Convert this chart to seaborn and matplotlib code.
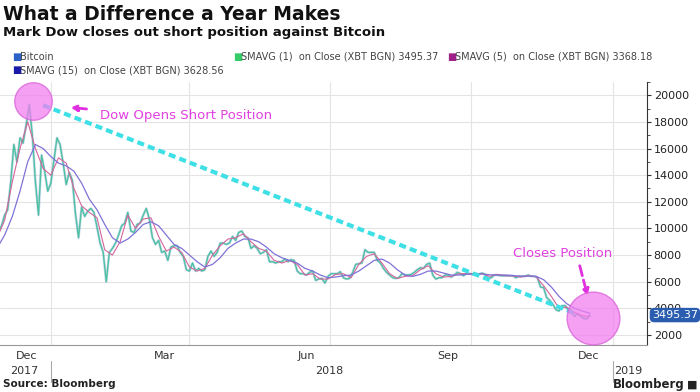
import pandas as pd
import matplotlib.pyplot as plt
import matplotlib.dates as mdates
import matplotlib.transforms as mtrans
from matplotlib.lines import Line2D
import seaborn as sns

# Bitcoin close, every 2nd day from 2017-11-28 to 2018-12-17
price_start = '2017-11-28'
price = [9700, 10200, 11000, 11400, 13500, 16300, 15000, 16800, 16400, 17800,
         19300, 17000, 13500, 11000, 15500, 14300, 12800, 13400, 15100, 16800,
         16300, 14900, 13300, 14200, 13600, 11100, 9300, 11600, 10900, 11300,
         11500, 11200, 10100, 8900, 8200, 6000, 8200, 8500, 8900, 9500,
         10200, 10400, 11200, 9800, 9700, 10300, 10400, 11000, 11500, 10700,
         9300, 8800, 9100, 8200, 8300, 7600, 8600, 8700, 8700, 8200,
         7900, 6900, 6800, 7400, 6800, 7000, 6800, 6900, 7900, 8300,
         7900, 8200, 8900, 8900, 8800, 8900, 9400, 9100, 9700, 9800,
         9400, 9300, 8500, 8700, 8500, 8100, 8200, 8400, 7500, 7500,
         7400, 7500, 7500, 7700, 7500, 7650, 7600, 6800, 6600, 6600,
         6500, 6700, 6800, 6100, 6200, 6250, 5900, 6400, 6600, 6600,
         6600, 6750, 6300, 6200, 6250, 6700, 7300, 7350, 7400, 8400,
         8200, 8200, 8200, 7600, 7400, 7000, 6700, 6500, 6300, 6250,
         6300, 6600, 6500, 6500, 6550, 6700, 6900, 7050, 7000, 7300,
         7400, 6500, 6200, 6300, 6300, 6500, 6500, 6350, 6500, 6700,
         6600, 6450, 6650, 6600, 6550, 6600, 6550, 6650, 6550, 6250,
         6300, 6500, 6500, 6450, 6450, 6450, 6450, 6450, 6300, 6400,
         6400, 6400, 6500, 6400, 6400, 6300, 5600, 5550, 4800, 4600,
         4300, 3900, 3800, 4200, 4200, 3850, 3800, 3400, 3600, 3400,
         3250, 3200, 3495.37]

# moving averages, every 5th day from 2017-11-27 to 2018-12-17
sma_start = '2017-11-27'
sma5 = [9300, 10600, 13500, 16000, 18000, 16000, 14500, 14000, 15300, 14900,
        13000, 11700, 11200, 10800, 8400, 8000, 9000, 11000, 10000, 10700,
        10800, 9400, 8300, 8600, 8200, 7100, 6800, 7000, 8000, 8700,
        9200, 9300, 9600, 9000, 8500, 8300, 7600, 7400, 7600, 7300,
        6500, 6600, 6200, 6200, 6550, 6600, 6300, 7300, 7900, 8100,
        7400, 6600, 6250, 6400, 6450, 6900, 7200, 6600, 6350, 6400,
        6600, 6600, 6550, 6600, 6400, 6550, 6450, 6430, 6350, 6450,
        6380, 5700, 4900, 4000, 4100, 3700, 3450, 3368.18]
sma15 = [8500, 9500, 10900, 12800, 15000, 16300, 16000, 15400, 14900, 14700,
         14300, 13400, 12200, 11400, 10300, 9300, 8900, 9200, 9700, 10300,
         10500, 10200, 9500, 8800, 8500, 8000, 7500, 7100, 7300, 7800,
         8500, 8900, 9200, 9200, 9000, 8600, 8100, 7800, 7600, 7400,
         7000, 6800, 6500, 6300, 6350, 6450, 6500, 6800, 7200, 7600,
         7700, 7400, 6900, 6500, 6400, 6550, 6800, 6800, 6650, 6500,
         6500, 6550, 6600, 6580, 6520, 6500, 6500, 6460, 6420, 6420,
         6410, 6150, 5600, 4900, 4350, 4000, 3800, 3628.56]

month_labels = ['Dec', 'Mar', 'Jun', 'Sep', 'Dec']
month_label_dates = ['2017-12-16', '2018-03-16', '2018-06-16', '2018-09-16', '2018-12-16']
quarter_lines = ['2018-01-01', '2018-04-01', '2018-07-01', '2018-10-01', '2019-01-01']
legend_row1 = ['Bitcoin', 'SMAVG (1)  on Close (XBT BGN) 3495.37',
               'SMAVG (5)  on Close (XBT BGN) 3368.18']
legend_row2 = ['SMAVG (15)  on Close (XBT BGN) 3628.56']
last_price = 3495.37

df_price = pd.DataFrame({'date': pd.date_range(price_start, periods=len(price), freq='2D'),
                         'close': price})
df_sma = pd.DataFrame({'date': pd.date_range(sma_start, periods=len(sma5), freq='5D'),
                       'sma5': sma5, 'sma15': sma15})

sns.set_style('white')
plt.rcParams['font.family'] = ['DejaVu Sans']

fig = plt.figure(figsize=(7, 3.92), dpi=100)
ax = fig.add_axes([0.0, 0.12, 0.924, 0.671])

# lines
sns.lineplot(data=df_price, x='date', y='close', color='#2f6fc0', lw=1.8, alpha=0.3, ax=ax)
sns.lineplot(data=df_price, x='date', y='close', color='#48c39c', lw=0.9, ax=ax)
sns.lineplot(data=df_sma, x='date', y='sma5', color='#d4649c', lw=0.8, ax=ax)
sns.lineplot(data=df_sma, x='date', y='sma15', color='#7f72d8', lw=0.9, ax=ax)

ax.set_xlim(pd.Timestamp('2017-11-29'), pd.Timestamp('2019-01-23'))
ax.set_ylim(1250, 21000)
ax.set_xlabel('')
ax.set_ylabel('')

# grid
ax.set_yticks(range(2000, 20001, 2000))
ax.set_yticks(range(2000, 21001, 1000), minor=True)
ax.grid(axis='y', which='major', color='#e4e4e4', lw=0.8)
for q in quarter_lines:
    ax.axvline(pd.Timestamp(q), color='#e4e4e4', lw=0.8, zorder=0)

# y axis on the right
ax.yaxis.tick_right()
ax.tick_params(axis='y', which='major', length=3, color='#333333', labelsize=8,
               labelcolor='#222222', pad=2)
ax.tick_params(axis='y', which='minor', length=2, color='#333333')
for side in ['top', 'left']:
    ax.spines[side].set_visible(False)
ax.spines['right'].set_color('#333333')
ax.spines['right'].set_linewidth(0.8)
ax.spines['bottom'].set_color('#999999')
ax.spines['bottom'].set_linewidth(0.8)

# x axis: month ticks + mid-month labels
ax.xaxis.set_minor_locator(mdates.MonthLocator())
ax.set_xticks([pd.Timestamp(d) for d in month_label_dates])
ax.set_xticklabels(month_labels)
ax.tick_params(axis='x', which='major', length=0, labelsize=8, labelcolor='#333333', pad=4)
ax.tick_params(axis='x', which='minor', length=2, color='#999999', direction='inout')

bt = mtrans.blended_transform_factory(ax.transData, ax.transAxes)
for d, lab in [('2017-12-15', '2017'), ('2018-07-01', '2018'), ('2019-01-11', '2019')]:
    ax.text(pd.Timestamp(d), -0.098, lab, transform=bt, ha='center', va='center',
            fontsize=8, color='#333333')
for d in ['2018-01-01', '2019-01-01']:
    x = mdates.date2num(pd.Timestamp(d))
    ax.add_line(Line2D([x, x], [-0.06, -0.14], transform=bt, color='#aaaaaa', lw=0.8,
                       clip_on=False))

# annotations
ax.plot([pd.Timestamp('2017-12-27'), pd.Timestamp('2018-12-09')], [19250, 3550],
        color='#3ee0e6', lw=3, ls=(0, (1.7, 1.0)), zorder=4)
ax.plot(pd.Timestamp('2017-12-20 12:00'), 19550, 'o', ms=27, mfc='#f280f0', mec='#d860d8',
        alpha=0.75, zorder=5)
ax.plot(pd.Timestamp('2018-12-19'), 3310, 'o', ms=38, mfc='#f280f0', mec='#d860d8',
        alpha=0.75, zorder=5)
ax.annotate('', xy=(pd.Timestamp('2018-01-12'), 19100), xytext=(pd.Timestamp('2018-01-26'), 18950),
            arrowprops=dict(arrowstyle='-|>', color='#e030e0', lw=2, ls='--', mutation_scale=9))
ax.text(pd.Timestamp('2018-02-02'), 18500, 'Dow Opens Short Position', color='#e040e0',
        fontsize=9.5, va='center', ha='left')
ax.text(pd.Timestamp('2018-10-28'), 8150, 'Closes Position', color='#e040e0',
        fontsize=9.5, va='center', ha='left')
ax.annotate('', xy=(pd.Timestamp('2018-12-16'), 4730), xytext=(pd.Timestamp('2018-12-10'), 7400),
            arrowprops=dict(arrowstyle='-|>', color='#e030e0', lw=2, ls='--', mutation_scale=9))

# last value tag
rt = mtrans.blended_transform_factory(ax.transAxes, ax.transData)
ax.text(1.008, last_price, f'{last_price:.2f}', transform=rt, ha='left', va='center',
        fontsize=8, color='white', zorder=6, clip_on=False,
        bbox=dict(boxstyle='round,pad=0.2,rounding_size=0.4', fc='#2a5db0', ec='none'))

# titles
fig.text(0.004, 0.964, 'What a Difference a Year Makes', fontsize=13.5, weight='bold',
         va='center', ha='left', color='#111111')
fig.text(0.004, 0.916, 'Mark Dow closes out short position against Bitcoin', fontsize=9.5,
         weight='bold', va='center', ha='left', color='#111111')

# legend rows
row1_colors = ['#2a62c8', '#33cc66', '#a0208a']
row1_x = [12, 233, 447]
for lab, col, px in zip(legend_row1, row1_colors, row1_x):
    fig.text(px / 700, 0.855, '■', color=col, fontsize=7, va='center', ha='left')
    fig.text((px + 8) / 700, 0.855, lab, color='#444444', fontsize=7, va='center', ha='left')
for lab in legend_row2:
    fig.text(12 / 700, 0.821, '■', color='#1a1aa8', fontsize=7, va='center', ha='left')
    fig.text(20 / 700, 0.821, lab, color='#444444', fontsize=7, va='center', ha='left')

# footer
fig.text(0.004, 0.021, 'Source: Bloomberg', fontsize=7.5, weight='bold', va='center',
         ha='left', color='#222222')
fig.text(0.978, 0.019, 'Bloomberg', fontsize=8.5, weight='bold', va='center', ha='right',
         color='#222222')
fig.text(0.982, 0.019, '■', fontsize=8, va='center', ha='left', color='#222222')

fig.savefig('out.png', dpi=100)
